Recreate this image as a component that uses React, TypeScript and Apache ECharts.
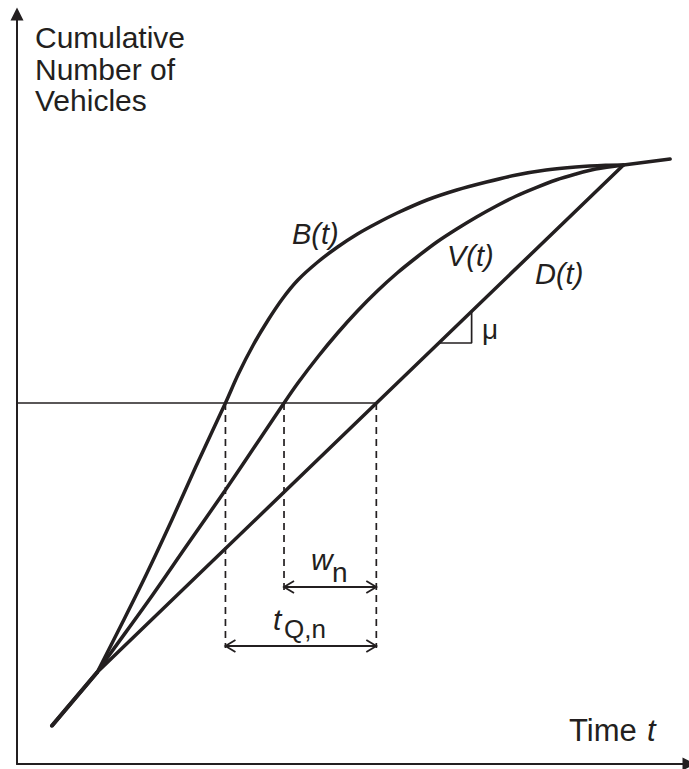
import React, { useEffect, useRef } from "react";
import * as echarts from "echarts";

const INK = "#231f20";
const FONT = "'Liberation Sans', Arial, Helvetica, sans-serif";

// Conceptual units: x = time, y = cumulative number of vehicles
const sharedStart: [number, number][] = [
  [4.375, 4.75],
  [10.125, 11.5],
];
const dCurve: [number, number][] = [
  [4.375, 4.75],
  [10.125, 11.5],
  [76.375, 74.875],
  [82.25, 75.625],
];
const bCurve: [number, number][] = [
  [10.125, 11.5],
  [13.25, 17.625],
  [16.25, 23.625],
  [19.5, 30.5],
  [22.5, 37.125],
  [26.25, 45.125],
  [27.875, 48.75],
  [29.75, 52.375],
  [31.625, 55.5],
  [33.5, 58.25],
  [35.375, 60.5],
  [37.875, 62.75],
  [40.375, 64.625],
  [42.875, 66.25],
  [45.375, 67.625],
  [47.875, 68.875],
  [51.625, 70.5],
  [55.375, 71.75],
  [59.125, 72.75],
  [62.875, 73.625],
  [66.625, 74.25],
  [70.375, 74.625],
  [74.125, 74.84],
  [76.375, 74.875],
];
const vCurve: [number, number][] = [
  [10.125, 11.5],
  [11.625, 13.625],
  [16.625, 20.5],
  [21.25, 27.125],
  [26.25, 34.25],
  [30.75, 40.875],
  [33.625, 45.125],
  [35.375, 47.625],
  [37.875, 50.875],
  [40.375, 53.875],
  [42.875, 56.625],
  [45.375, 59.125],
  [47.875, 61.375],
  [50.375, 63.375],
  [52.875, 65.25],
  [55.375, 66.875],
  [57.875, 68.375],
  [60.375, 69.75],
  [62.875, 71],
  [65.375, 72.05],
  [67.875, 73],
  [70.375, 73.75],
  [72.875, 74.375],
  [76.375, 74.875],
];
const queueLine: [number, number][] = [
  [0, 45.125],
  [45.25, 45.125],
];
// [x, yTop, yBottom]
const dashedDrops: number[][] = [
  [26.25, 45.125, 14.5],
  [33.625, 45.125, 21.75],
  [45.25, 45.125, 14.5],
];
// [xStart, xEnd, y]
const spanArrows: number[][] = [
  [33.625, 45.25, 22.125],
  [26.25, 45.25, 14.75],
];
const muTriangle: [number, number][] = [
  [53.125, 52.625],
  [57.25, 52.625],
  [57.25, 56.6],
];

const txt = (
  text: string,
  x: number,
  y: number,
  size: number,
  italic = false
) => ({
  type: "text",
  x,
  y,
  silent: true,
  style: {
    text,
    fill: INK,
    fontSize: size,
    fontFamily: FONT,
    fontStyle: italic ? "italic" : "normal",
    align: "left",
    verticalAlign: "middle",
  },
});

export default function App() {
  const ref = useRef<HTMLDivElement>(null);
  useEffect(() => {
    document.body.style.margin = "0";
    if (!ref.current) return;
    const chart = echarts.init(ref.current, undefined, { renderer: "svg" });
    const curveStyle = { color: INK, width: 3.5, cap: "round", join: "round" };
    chart.setOption({
      animation: false,
      backgroundColor: "#ffffff",
      grid: { left: 17, right: -5, top: 14, bottom: 5, containLabel: false },
      xAxis: {
        type: "value",
        min: 0,
        max: 84.625,
        axisLine: {
          show: true,
          onZero: false,
          symbol: ["none", "triangle"],
          symbolSize: [13, 13],
          lineStyle: { color: INK, width: 2 },
        },
        axisTick: { show: false },
        axisLabel: { show: false },
        splitLine: { show: false },
      },
      yAxis: {
        type: "value",
        min: 0,
        max: 93.75,
        axisLine: {
          show: true,
          onZero: false,
          symbol: ["none", "triangle"],
          symbolSize: [13, 13],
          lineStyle: { color: INK, width: 2 },
        },
        axisTick: { show: false },
        axisLabel: { show: false },
        splitLine: { show: false },
      },
      series: [
        {
          type: "line",
          data: queueLine,
          showSymbol: false,
          silent: true,
          lineStyle: { color: INK, width: 1.5 },
        },
        {
          type: "custom",
          coordinateSystem: "cartesian2d",
          data: dashedDrops,
          encode: { x: 0, y: [1, 2] },
          silent: true,
          renderItem: (_p: any, api: any) => {
            const a = api.coord([api.value(0), api.value(1)]);
            const b = api.coord([api.value(0), api.value(2)]);
            return {
              type: "line",
              shape: { x1: a[0], y1: a[1], x2: b[0], y2: b[1] },
              style: { stroke: INK, lineWidth: 1.7, lineDash: [7, 5] },
            };
          },
        },
        {
          type: "custom",
          coordinateSystem: "cartesian2d",
          data: spanArrows,
          encode: { x: [0, 1], y: 2 },
          silent: true,
          renderItem: (_p: any, api: any) => {
            const a = api.coord([api.value(0), api.value(2)]);
            const b = api.coord([api.value(1), api.value(2)]);
            const hl = 10;
            const hw = 6;
            const st = { stroke: INK, lineWidth: 1.8, fill: "none" };
            return {
              type: "group",
              children: [
                {
                  type: "line",
                  shape: { x1: a[0], y1: a[1], x2: b[0], y2: b[1] },
                  style: st,
                },
                {
                  type: "polyline",
                  shape: {
                    points: [
                      [a[0] + hl, a[1] - hw],
                      [a[0], a[1]],
                      [a[0] + hl, a[1] + hw],
                    ],
                  },
                  style: st,
                },
                {
                  type: "polyline",
                  shape: {
                    points: [
                      [b[0] - hl, b[1] - hw],
                      [b[0], b[1]],
                      [b[0] - hl, b[1] + hw],
                    ],
                  },
                  style: st,
                },
              ],
            };
          },
        },
        {
          type: "line",
          data: muTriangle,
          showSymbol: false,
          silent: true,
          lineStyle: { color: INK, width: 1.7 },
        },
        {
          name: "D(t)",
          type: "line",
          data: dCurve,
          showSymbol: false,
          silent: true,
          lineStyle: curveStyle,
        },
        {
          name: "B(t)",
          type: "line",
          data: bCurve,
          smooth: 0.3,
          showSymbol: false,
          silent: true,
          lineStyle: curveStyle,
        },
        {
          name: "V(t)",
          type: "line",
          data: vCurve,
          smooth: 0.3,
          showSymbol: false,
          silent: true,
          lineStyle: curveStyle,
        },
        {
          type: "line",
          data: sharedStart,
          showSymbol: false,
          silent: true,
          lineStyle: { color: INK, width: 4 },
        },
      ],
      graphic: [
        txt("Cumulative", 35, 37.5, 30),
        txt("Number of", 35, 69, 30),
        txt("Vehicles", 35, 100.5, 30),
        txt("Time", 569, 730, 31),
        txt("t", 647, 730, 31, true),
        txt("B(t)", 292, 234, 29, true),
        txt("V(t)", 447, 256, 29, true),
        txt("D(t)", 535, 274, 29, true),
        txt("μ", 482, 329, 28),
        txt("w", 311, 559.5, 30, true),
        txt("n", 332, 572, 28),
        txt("t", 273, 619.5, 30, true),
        txt("Q,n", 284, 629, 26),
      ],
    });
    return () => chart.dispose();
  }, []);
  return <div ref={ref} style={{ width: 689, height: 769 }} />;
}
